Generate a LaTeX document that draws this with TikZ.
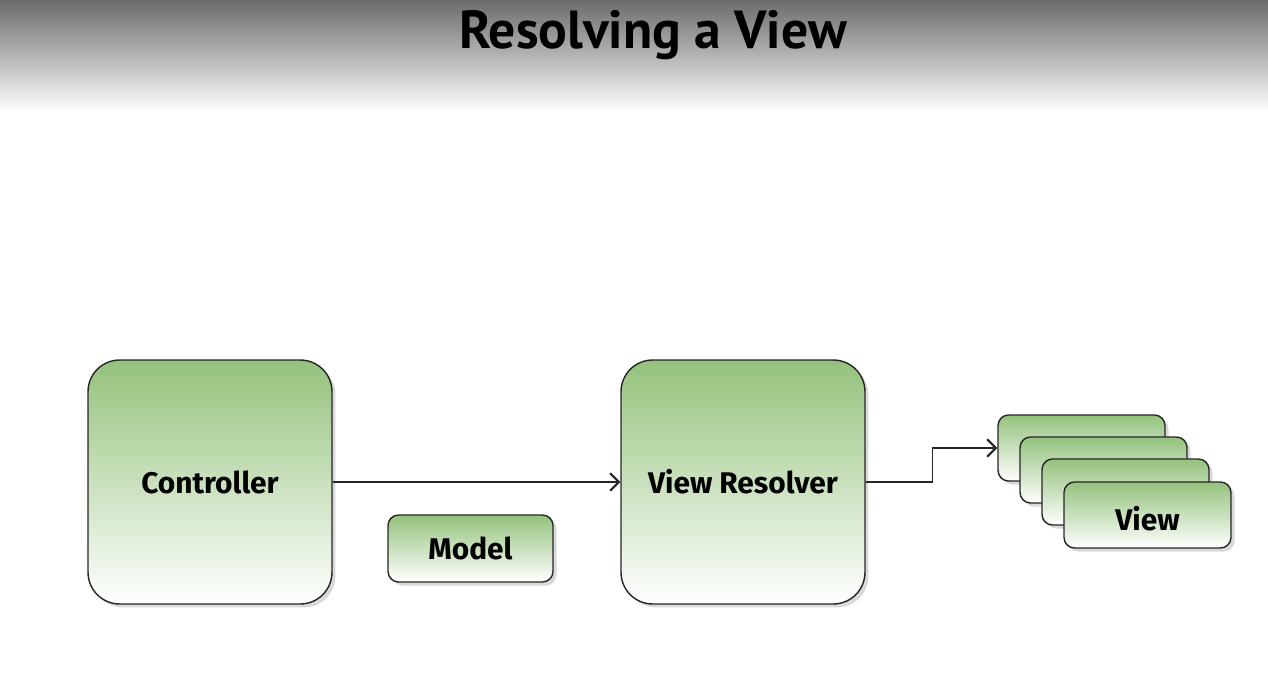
\documentclass[tikz,border=0pt]{standalone}
\usepackage{fontspec}
\setmainfont{Fira Sans}
\newfontfamily\titlefont{PT Sans}
\usetikzlibrary{arrows.meta, shadows, positioning}
\definecolor{leaf}{RGB}{148,194,124}

\begin{document}
\begin{tikzpicture}[
		x=0.02cm, y=-0.02cm,
		block/.style	={ rectangle, draw=black!85, thick,
			rounded corners=18pt,
			top color=leaf, bottom color=white,
			drop shadow={shadow xshift=2pt, shadow yshift=-2pt, opacity=0.3},
			font=\bfseries\fontsize{17}{20}\selectfont,
			minimum width=4.88cm, minimum height=4.88cm, inner sep=0pt
		},
		card/.style		={ block, rounded corners=6pt,
			minimum width=3.34cm, minimum height=1.32cm
		},
		flow/.style		={ draw=black!85, thick,
			-{Straight Barb[length=5pt, width=10pt, line width=1.2pt]}
		},
	]

	\useasboundingbox (0,0) rectangle (1268,683);

	% header band and title
	\shade [top color=black!58, middle color=black!27, bottom color=white]
				(0,0) rectangle (1268,112);
	\node (title) at (653,35) {\titlefont\bfseries\fontsize{30.5}{34}\selectfont Resolving a View};

	% declare blocks
	\node (ctrl) [block] at (210,482) {Controller};
	\node (model) [card, minimum width=3.3cm, minimum height=1.34cm] at (470.5,548.5) {Model};
	\node (vres) [block] at (743,482) {View Resolver};

	% stack of views
	\foreach \name/\px/\py in {1/1081.5/448, 2/1103.5/470, 3/1125.5/492, 4/1147.5/515} {
			\node (v\name) [card] at (\px,\py) {};
		}
	\node at (v4) [yshift=-2pt, font=\bfseries\fontsize{17}{20}\selectfont] {View};

	% draw connectors
	\draw [flow] (ctrl) -- (vres);
	\draw [flow] (vres.east) -- ++(67,0) |- (v1.west);

\end{tikzpicture}
\end{document}
